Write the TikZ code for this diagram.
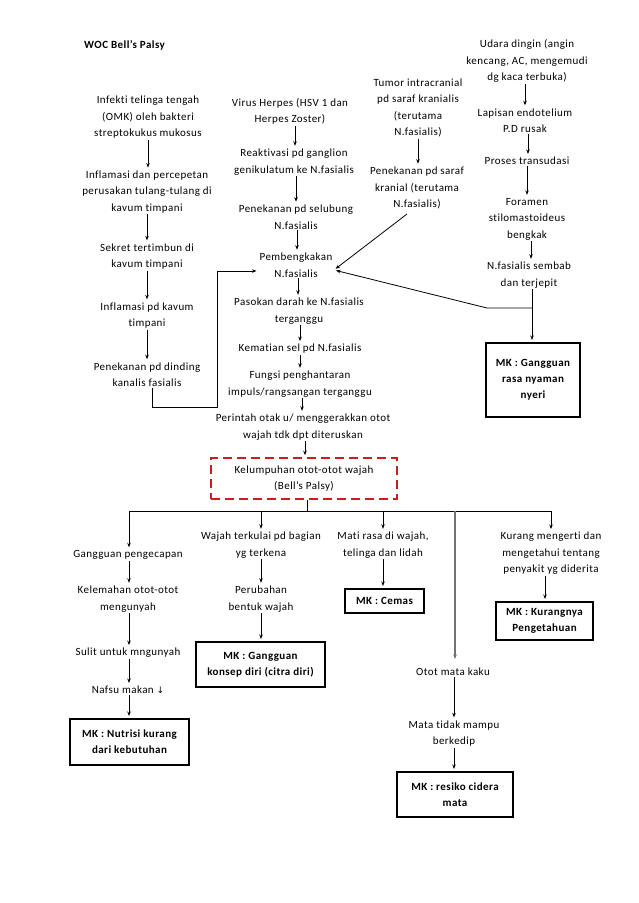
\documentclass[tikz,border=0pt]{standalone}
\usepackage{fontspec}
\setmainfont[Ligatures=NoCommon,LetterSpace=4]{Carlito}
\newfontfamily\symfont{DejaVu Sans}
\usetikzlibrary{arrows.meta,calc}
\definecolor{dashred}{RGB}{200,30,30}
\begin{document}
\begin{tikzpicture}[x=1pt,y=-1pt,
  txt/.style={align=center,font=\fontsize{11}{16.5}\selectfont,inner sep=1pt},
  mk/.style={draw,line width=2pt,align=center,font=\bfseries\fontsize{11}{16}\selectfont,inner sep=0pt},
  arr/.style={-{Stealth[length=4.5pt,width=3.5pt]},line width=0.8pt,shorten >=2pt},
  ln/.style={line width=0.8pt}]
\useasboundingbox (0,0) rectangle (638,903);
\fill[white] (0,0) rectangle (638,903);

\node[anchor=west,font=\bfseries\fontsize{11}{14}\selectfont,inner sep=0pt] (title) at (84,45) {WOC Bell’s Palsy};

% left column
\node[txt] (n1) at (148,117.5) {Infekti telinga tengah\\(OMK) oleh bakteri\\streptokukus mukosus};
\node[txt] (n2) at (147,192) {Inflamasi dan percepetan\\perusakan tulang-tulang di\\kavum timpani};
\node[txt] (n3) at (147,256.5) {Sekret tertimbun di\\kavum timpani};
\node[txt] (n4) at (147,315.5) {Inflamasi pd kavum\\timpani};
\node[txt] (n5) at (147,374.5) {Penekanan pd dinding\\kanalis fasialis};

% middle column
\node[txt] (m1) at (290,111.5) {Virus Herpes (HSV 1 dan\\Herpes Zoster)};
\node[txt] (m2) at (294,162) {Reaktivasi pd ganglion\\genikulatum ke N.fasialis};
\node[txt] (m3) at (296,217) {Penekanan pd selubung\\N.fasialis};
\node[txt] (m4) at (296,265) {Pembengkakan\\N.fasialis};
\node[txt] (m5) at (299,311) {Pasokan darah ke N.fasialis\\terganggu};
\node[txt] (m6) at (300,349) {Kematian sel pd N.fasialis};
\node[txt] (m7) at (300,384) {Fungsi penghantaran\\impuls/rangsangan terganggu};
\node[txt] (m8) at (303,427) {Perintah otak u/ menggerakkan otot\\wajah tdk dpt diteruskan};
\node[txt,draw=dashred,line width=1.5pt,dash pattern=on 9pt off 5pt,minimum width=186pt,minimum height=41pt] (bp) at (304,478.5) {Kelumpuhan otot-otot wajah\\(Bell’s Palsy)};

% tumor column
\node[txt] (t1) at (418,108) {Tumor intracranial\\pd saraf kranialis\\(terutama\\N.fasialis)};
\node[txt] (t2) at (417,188) {Penekanan pd saraf\\kranial (terutama\\N.fasialis)};

% right column
\node[txt] (r1) at (527,61.3) {Udara dingin (angin\\kencang, AC, mengemudi\\dg kaca terbuka)};
\node[txt] (r2) at (525,120.5) {Lapisan endotelium\\P.D rusak};
\node[txt] (r3) at (527,161) {Proses transudasi};
\node[txt] (r4) at (527,219) {Foramen\\stilomastoideus\\bengkak};
\node[txt] (r5) at (529,275) {N.fasialis sembab\\dan terjepit};
\node[mk,minimum width=94pt,minimum height=74pt] (rb) at (533,380) {MK : Gangguan\\rasa nyaman\\nyeri};

% bottom branches
\node[txt] (b1) at (128,555) {Gangguan pengecapan};
\node[txt] (b2) at (128,599) {Kelemahan otot-otot\\mengunyah};
\node[txt] (b3) at (128,653) {Sulit untuk mngunyah};
\node[txt] (b4) at (128,690) {Nafsu makan {\symfont\fontsize{9}{12}\selectfont ↓}};
\node[mk,minimum width=119pt,minimum height=46pt] (b5) at (129.5,742) {MK : Nutrisi kurang\\dari kebutuhan};

\node[txt] (c1) at (261,545) {Wajah terkulai pd bagian\\yg terkena};
\node[txt] (c2) at (261,599) {Perubahan\\bentuk wajah};
\node[mk,minimum width=129pt,minimum height=45pt] (c3) at (260.5,664.5) {MK : Gangguan\\konsep diri (citra diri)};

\node[txt] (d1) at (383,545) {Mati rasa di wajah,\\telinga dan lidah};
\node[mk,minimum width=79pt,minimum height=24pt] (d2) at (384.5,601) {MK : Cemas};

\node[txt] (e1) at (453,672) {Otot mata kaku};
\node[txt] (e2) at (454,733.5) {Mata tidak mampu\\berkedip};
\node[mk,minimum width=116pt,minimum height=45pt] (e3) at (455,794.5) {MK : resiko cidera\\mata};

\node[txt] (f1) at (551,553.5) {Kurang mengerti dan\\mengetahui tentang\\penyakit yg diderita};
\node[mk,minimum width=97pt,minimum height=38pt] (f2) at (544.5,621) {MK : Kurangnya\\Pengetahuan};

% connectors left column
\draw[arr] (n1.south) -- (n1.south |- n2.north);
\draw[arr] (n2.south) -- (n2.south |- n3.north);
\draw[arr] (n3.south) -- (n3.south |- n4.north);
\draw[arr] (n4.south) -- (n4.south |- n5.north);
\coordinate (k1) at (217,407);
\coordinate (k2) at (217,271);
\draw[arr] ([xshift=5pt]n5.south) |- (k1) -- (k2) -- (k2 -| m4.west);

% middle
\draw[arr] ([xshift=5pt]m1.south) -- ([xshift=5pt]m1.south |- m2.north);
\draw[arr] ([xshift=2pt]m2.south) -- ([xshift=2pt]m2.south |- m3.north);
\draw[arr] ([xshift=1pt]m3.south) -- ([xshift=1pt]m3.south |- m4.north);
\draw[arr] ([xshift=2pt]m4.south) -- ([xshift=2pt]m4.south |- m5.north);
\draw[arr] ([xshift=1pt]m5.south) -- ([xshift=1pt]m5.south |- m6.north);
\draw[arr] (m6.south) -- (m6.south |- m7.north);
\draw[arr] ([xshift=2pt]m7.south) -- ([xshift=2pt]m7.south |- m8.north);
\draw[arr] ([xshift=2pt]m8.south) -- ([xshift=2pt]m8.south |- bp.north);

% tumor
\draw[arr] (t1.south) -- (t1.south |- t2.north);
\coordinate (ts) at (407,214);
\coordinate (pt) at (334,270);
\draw[arr] (ts) -- (pt);

% right
\draw[arr] ([xshift=-2pt]r1.south) -- ([xshift=-2pt]r1.south |- r2.north);
\draw[arr] ([xshift=3pt]r2.south) -- ([xshift=3pt]r2.south |- r3.north);
\draw[arr] (r3.south) -- (r3.south |- r4.north);
\draw[arr] ([xshift=4pt]r4.south) -- ([xshift=4pt]r4.south |- r5.north);
\coordinate (j) at (532,308);
\coordinate (j2) at (487,308);
\draw[ln] (j |- r5.south) -- (j);
\draw[arr] (j) -- (j |- rb.north);
\draw[arr] (j) -- (j2) -- (pt);

% bus
\coordinate (bus) at (307,511);
\draw[ln] (bus |- bp.south) -- (bus);
\draw[ln] (129,511) -- (551,511);
\draw[arr] (129,511) -- (129,0 |- b1.north);
\draw[arr] (261,511) -- (261,0 |- c1.north);
\draw[arr] (383,511) -- (383,0 |- d1.north);
\draw[arr,draw=black!55,line width=1.2pt] (455,511) -- ([yshift=6pt]e1.north -| 455,0);
\draw[arr] (551,511) -- (551,0 |- f1.north);

\draw[arr] ([xshift=1pt]b1.south) -- ([xshift=1pt]b1.south |- b2.north);
\draw[arr] ([xshift=1pt]b2.south) -- ([xshift=1pt]b2.south |- b3.north);
\draw[arr] ([xshift=1pt]b3.south) -- ([xshift=1pt]b3.south |- b4.north);
\draw[arr] ([xshift=1pt]b4.south) -- ([xshift=1pt]b4.south |- b5.north);
\draw[arr] (c1.south) -- (c1.south |- c2.north);
\draw[arr] (c2.south) -- (c2.south |- c3.north);
\draw[arr] (d1.south) -- (d1.south |- d2.north);
\draw[arr] ([xshift=1pt]e1.south) -- ([xshift=1pt]e1.south |- e2.north);
\draw[arr] (e2.south) -- (e2.south |- e3.north);
\draw[arr] ([xshift=-6pt]f1.south) -- ([xshift=-6pt]f1.south |- f2.north);
\end{tikzpicture}
\end{document}
